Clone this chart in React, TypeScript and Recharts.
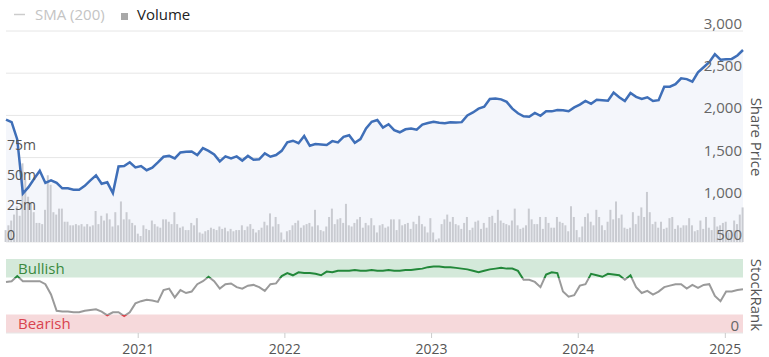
import { ComposedChart, Line, Area, Bar, XAxis, YAxis, CartesianGrid, ReferenceArea } from 'recharts';

const startDate = '2020-02-07';
const yearTicks = ['2021-01-01', '2022-01-01', '2023-01-01', '2024-01-01', '2025-01-01'];
const priceTicks = [500, 1000, 1500, 2000, 2500, 3000];
const volumeTicks = [0, 25, 50, 75];

// share price, one value every second week
const sharePrice = [
    1950, 1920, 1715, 1075, 1150, 1250, 1345, 1200, 1230, 1200,
    1136, 1136, 1120, 1120, 1165, 1230, 1290, 1190, 1207, 1080,
    1396, 1400, 1445, 1384, 1400, 1350, 1380, 1443, 1510, 1520,
    1490, 1561, 1570, 1573, 1530, 1612, 1580, 1538, 1455, 1514,
    1490, 1514, 1465, 1520, 1475, 1480, 1550, 1510, 1530, 1580,
    1680, 1700, 1670, 1755, 1640, 1660, 1655, 1650, 1695, 1680,
    1745, 1765, 1675, 1720, 1845, 1925, 1945, 1856, 1895, 1825,
    1800, 1835, 1845, 1830, 1891, 1910, 1925, 1912, 1906, 1918,
    1915, 1920, 2000, 2035, 2080, 2103, 2195, 2200, 2190, 2160,
    2080, 2025, 1990, 1985, 2030, 1995, 2050, 2048, 2065, 2060,
    2050, 2095, 2128, 2172, 2138, 2185, 2180, 2175, 2270, 2215,
    2170, 2265, 2220, 2195, 2215, 2170, 2180, 2340, 2340, 2370,
    2440, 2430, 2400, 2510, 2570, 2630, 2725, 2660, 2665, 2669,
    2710, 2775,
];

// StockRank, one value every second week
const stockRank = [
    69, 70, 77, 70, 70, 70, 70, 66, 52, 30,
    29, 29, 28, 28, 30, 31, 32, 29, 24, 28,
    28, 23, 28, 40, 43, 45, 44, 42, 58, 60,
    48, 58, 54, 56, 66, 70, 76, 70, 60, 66,
    67, 62, 60, 64, 65, 62, 57, 66, 67, 77,
    81, 78, 82, 81, 81, 80, 78, 83, 82, 84,
    84, 84, 85, 84, 84, 85, 84, 84, 85, 84,
    84, 85, 85, 86, 87, 89, 90, 90, 89, 89,
    88, 87, 86, 84, 82, 84, 86, 87, 88, 87,
    87, 84, 72, 72, 69, 62, 79, 82, 81, 56,
    49, 51, 64, 66, 80, 78, 76, 80, 79, 78,
    72, 78, 62, 54, 57, 52, 56, 62, 64, 66,
    66, 60, 65, 61, 65, 66, 50, 43, 56, 56,
    58, 59,
];

// weekly volume, millions
const volume = [
    10, 14, 18, 23, 30, 22, 66, 52, 38, 33,
    25, 16, 16, 15, 27, 56, 48, 25, 23, 28,
    28, 17, 17, 14, 14, 15, 14, 15, 13, 15,
    13, 14, 26, 15, 22, 18, 24, 19, 13, 25,
    14, 34, 19, 25, 19, 16, 14, 7, 5, 14,
    11, 10, 18, 15, 13, 12, 19, 19, 17, 15,
    25, 15, 12, 13, 10, 10, 16, 14, 20, 8,
    7, 9, 10, 12, 11, 10, 13, 11, 12, 9,
    11, 9, 10, 10, 14, 10, 13, 15, 11, 8,
    10, 12, 17, 14, 24, 13, 21, 15, 8, 2,
    9, 10, 14, 16, 18, 12, 14, 15, 16, 13,
    27, 14, 10, 9, 13, 21, 28, 15, 19, 20,
    16, 32, 14, 13, 16, 19, 21, 12, 16, 14,
    20, 14, 8, 14, 15, 12, 13, 19, 19, 10,
    19, 14, 15, 16, 11, 17, 15, 22, 15, 13,
    8, 20, 8, 2, 3, 15, 19, 23, 17, 21,
    15, 14, 11, 16, 21, 10, 12, 17, 18, 11,
    16, 12, 21, 22, 16, 27, 18, 16, 15, 14,
    18, 28, 14, 11, 12, 14, 28, 19, 15, 15,
    21, 11, 21, 16, 12, 12, 21, 17, 16, 14,
    9, 30, 21, 10, 4, 13, 21, 24, 17, 14,
    27, 21, 14, 10, 17, 27, 19, 34, 20, 23,
    12, 11, 12, 25, 15, 22, 29, 21, 42, 25,
    15, 17, 12, 17, 11, 12, 20, 21, 11, 14,
    12, 14, 14, 20, 14, 9, 10, 18, 11, 21,
    12, 10, 21, 13, 14, 16, 17, 8, 10, 18,
    15, 23, 29,
];

const DAY = 86400000;
const t0 = Date.parse(startDate);
const rows = volume.map((v, i) => ({
    t: t0 + i * 7 * DAY,
    volume: v,
    price: i % 2 === 0 ? sharePrice[i / 2] ?? null : null,
    rank: i % 2 === 0 ? stockRank[i / 2] ?? null : null,
}));
const tEnd = rows[rows.length - 1].t;
const yearTs = yearTicks.map((d) => Date.parse(d));

// zone colours for the rank line (green above 75, red below 25)
const rMax = Math.max(...stockRank);
const rMin = Math.min(...stockRank);
const off = (v: number) => Math.min(1, Math.max(0, (rMax - v) / (rMax - rMin)));

const fmt = (n: number) => String(n).replace(/\B(?=(\d{3})+(?!\d))/g, ',');

// right axis sits at x=743, labels are drawn inside the plot, above the grid line
const priceTick = (p: any) => (
    <text x={p.x - 1} y={p.y - 2} textAnchor="end" fontSize={15} fill="#666">
        {fmt(p.payload.value)}
    </text>
);

const volTick = (p: any) => (
    <text x={p.x + 1} y={p.y - 2.5} textAnchor="start" fontSize={14} fill="#555">
        {p.payload.value === 0 ? '0' : p.payload.value + 'm'}
    </text>
);

const rankTick = (p: any) => (
    <text x={p.x - 4} y={p.y - 2} textAnchor="end" fontSize={15} fill="#666">
        {p.payload.value}
    </text>
);

export default function App() {
    return (
        <div style={{ position: 'absolute', left: 0, top: 0, width: 769, height: 357, background: '#fff', fontFamily: '"Open Sans", sans-serif' }}>
            <div style={{ position: 'absolute', left: 0, top: 0 }}>
                <ComposedChart width={769} height={250} data={rows} margin={{ top: 31, right: 0, bottom: 8, left: 0 }}>
                    <CartesianGrid vertical={false} stroke="#e6e6e6" yAxisId="price" />
                    <XAxis dataKey="t" type="number" domain={[t0, tEnd]} hide />
                    <YAxis yAxisId="price" orientation="right" width={26} domain={[500, 3000]} ticks={priceTicks} interval={0}
                        tickSize={0} tickMargin={0} axisLine={false} tickLine={false} tick={priceTick} />
                    <YAxis yAxisId="vol" orientation="left" width={6} domain={[0, 177]} ticks={volumeTicks} interval={0}
                        tickSize={0} tickMargin={0} axisLine={false} tickLine={false} tick={volTick} />
                    <Area yAxisId="price" dataKey="price" stroke="none" fill="#f4f6fb" fillOpacity={1} connectNulls isAnimationActive={false} />
                    <Bar yAxisId="vol" dataKey="volume" fill="#c9cbd1" barSize={2} isAnimationActive={false} />
                    <Line yAxisId="price" dataKey="price" stroke="#3f6fb8" strokeWidth={2.5} dot={false} connectNulls isAnimationActive={false} />
                </ComposedChart>
            </div>
            <div style={{ position: 'absolute', left: 0, top: 250 }}>
                <ComposedChart width={769} height={107} data={rows} margin={{ top: 9, right: 0, bottom: 0, left: 0 }}>
                    <defs>
                        <linearGradient id="rankZones" x1="0" y1="0" x2="0" y2="1">
                            <stop offset={0} stopColor="#23883a" />
                            <stop offset={off(75)} stopColor="#23883a" />
                            <stop offset={off(75)} stopColor="#9a9a9a" />
                            <stop offset={off(25)} stopColor="#9a9a9a" />
                            <stop offset={off(25)} stopColor="#d9474f" />
                            <stop offset={1} stopColor="#d9474f" />
                        </linearGradient>
                    </defs>
                    <XAxis dataKey="t" type="number" domain={[t0, tEnd]} ticks={yearTs} height={24} interval={0}
                        tickFormatter={(t) => String(new Date(t).getUTCFullYear())}
                        tick={{ fill: '#555', fontSize: 14 }} tickSize={5} tickMargin={6}
                        axisLine={{ stroke: '#e6e6e6' }} tickLine={{ stroke: '#ccc' }} />
                    <YAxis yAxisId="left" orientation="left" width={6} tick={false} axisLine={false} tickLine={false} />
                    <YAxis yAxisId="rank" orientation="right" width={26} domain={[0, 100]} ticks={[0]} interval={0}
                        tickSize={0} tickMargin={0} axisLine={false} tickLine={false} tick={rankTick} />
                    <ReferenceArea yAxisId="rank" y1={75} y2={100} fill="#d4e9da" fillOpacity={1} stroke="none"
                        label={{ value: 'Bullish', position: 'insideLeft', offset: 12, fill: '#3b8a3e', fontSize: 15 }} />
                    <ReferenceArea yAxisId="rank" y1={0} y2={25} fill="#f6d9db" fillOpacity={1} stroke="none"
                        label={{ value: 'Bearish', position: 'insideLeft', offset: 12, fill: '#d9434e', fontSize: 15 }} />
                    <Line yAxisId="rank" dataKey="rank" stroke="url(#rankZones)" strokeWidth={2} dot={false} connectNulls isAnimationActive={false} />
                </ComposedChart>
            </div>
            <svg width={769} height={357} style={{ position: 'absolute', left: 0, top: 0, pointerEvents: 'none' }}>
                <line x1={14} x2={25} y1={14.5} y2={14.5} stroke="#cccccc" strokeWidth={1.5} />
                <text x={35} y={20} fontSize={15} fill="#c4c4c4">SMA (200)</text>
                <rect x={121} y={13} width={7} height={7} fill="#a8a8a8" />
                <text x={137} y={20} fontSize={15} fill="#222">Volume</text>
                <text transform="translate(751 137) rotate(90)" textAnchor="middle" fontSize={15} fill="#555">Share Price</text>
                <text transform="translate(751 295) rotate(90)" textAnchor="middle" fontSize={15} fill="#555">StockRank</text>
            </svg>
        </div>
    );
}
